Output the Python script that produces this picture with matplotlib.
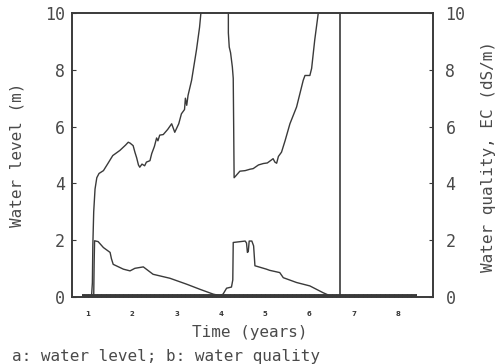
import matplotlib
matplotlib.use("Agg")
import matplotlib.pyplot as plt
from matplotlib.ticker import FixedLocator
import numpy as np

# ==== data ====
# water level (m), first rise
level1_t = [1.08, 1.10, 1.11, 1.13, 1.16, 1.20, 1.25, 1.35, 1.45, 1.56, 1.72, 1.85,
            1.91, 1.95, 2.02, 2.06, 2.10, 2.14, 2.17, 2.22, 2.28, 2.32, 2.40, 2.44,
            2.50, 2.55, 2.58, 2.62, 2.70, 2.80, 2.89, 2.96, 3.05, 3.11, 3.18, 3.20,
            3.23, 3.26, 3.34, 3.45, 3.52, 3.55]
level1_v = [0.0, 0.5, 1.8, 3.0, 3.8, 4.2, 4.35, 4.45, 4.7, 4.98, 5.16, 5.35,
            5.45, 5.42, 5.33, 5.1, 4.9, 4.65, 4.57, 4.68, 4.62, 4.75, 4.8, 5.05,
            5.3, 5.6, 5.5, 5.7, 5.72, 5.9, 6.1, 5.8, 6.1, 6.45, 6.6, 7.0,
            6.75, 7.1, 7.63, 8.7, 9.5, 10.0]
# water level (m), after the drop
level2_t = [4.17, 4.17, 4.19, 4.22, 4.26, 4.28, 4.29, 4.30, 4.33, 4.43, 4.55, 4.66,
            4.73, 4.85, 4.96, 5.05, 5.12, 5.18, 5.22, 5.26, 5.30, 5.37, 5.45, 5.56,
            5.71, 5.86, 5.90, 6.01, 6.05, 6.12, 6.20]
level2_v = [10.0, 9.3, 8.8, 8.6, 8.1, 7.7, 6.0, 4.2, 4.25, 4.43, 4.45, 4.5,
            4.52, 4.65, 4.7, 4.72, 4.8, 4.87, 4.75, 4.71, 4.95, 5.1, 5.5, 6.1,
            6.69, 7.63, 7.8, 7.8, 8.05, 9.05, 10.0]
# vertical jump near year 6.7
jump_t = [6.68, 6.68]
jump_v = [0.0, 10.0]

# water quality EC (dS/m)
qual_t = [1.13, 1.14, 1.15, 1.23, 1.35, 1.50, 1.53, 1.57, 1.80, 1.95, 2.06, 2.25,
          2.47, 2.85, 3.23, 3.53, 3.83, 3.98, 4.05, 4.13, 4.24, 4.27, 4.28, 4.55,
          4.58, 4.60, 4.62, 4.64, 4.70, 4.74, 4.77, 5.03, 5.10, 5.33, 5.41, 5.71,
          6.01, 6.31, 6.50, 6.55]
qual_v = [0.0, 1.2, 1.98, 1.95, 1.74, 1.57, 1.35, 1.15, 0.98, 0.92, 1.01, 1.06,
          0.8, 0.66, 0.45, 0.27, 0.1, 0.05, 0.1, 0.31, 0.35, 0.6, 1.92, 1.97,
          1.9, 1.57, 1.6, 1.97, 1.97, 1.8, 1.1, 0.98, 0.94, 0.86, 0.68, 0.51,
          0.39, 0.15, 0.02, 0.0]

# zero line along the bottom
base_t = [0.86, 8.42]
base_v = [0.05, 0.05]

x_ticks = [1, 2, 3, 4, 5, 6, 7, 8]
y_ticks = [0, 2, 4, 6, 8, 10]

INK = "#3a3a3a"
TXT = "#4a4a4a"
MONO = "DejaVu Sans Mono"

fig = plt.figure(figsize=(5.03, 3.64), dpi=100)
ax = fig.add_axes([72 / 503, 1 - 297 / 364, 361 / 503, 284 / 364])
ax2 = ax.twinx()

ax.plot(level1_t, level1_v, color=INK, lw=1.0)
ax.plot(level2_t, level2_v, color=INK, lw=1.0)
ax.plot(jump_t, jump_v, color=INK, lw=1.2)
ax.plot(base_t, base_v, color=INK, lw=2.8, solid_capstyle="butt")
ax2.plot(qual_t, qual_v, color=INK, lw=1.0)

for a in (ax, ax2):
    a.set_xlim(0.64, 8.79)
    a.set_ylim(0, 10)
    a.set_yticks(y_ticks)
    for s in a.spines.values():
        s.set_color(INK)
        s.set_linewidth(1.2)

ax.set_xticks(x_ticks)
ax.set_xticklabels([str(t) for t in x_ticks], fontsize=5, fontweight="bold",
                   color=INK)
ax.xaxis.set_minor_locator(FixedLocator(np.arange(0.9, 8.45, 0.1)))
ax.tick_params(axis="x", which="both", direction="in", length=2, width=0.7,
               color=INK, pad=10)
ax.tick_params(axis="y", direction="in", length=3, width=0.8, color=INK,
               labelsize=12, labelcolor=TXT, pad=5)
ax2.tick_params(axis="y", direction="in", length=3, width=0.8, color=INK,
                labelsize=12, labelcolor=TXT, pad=9)
for lab in ax.get_yticklabels() + ax2.get_yticklabels():
    lab.set_family(MONO)

fig.text(17 / 503, 1 - 155 / 364, "Water level (m)", rotation=90, ha="center",
         va="center", fontsize=11.5, family=MONO, color=TXT)
fig.text(488 / 503, 1 - 157 / 364, "Water quality, EC (dS/m)", rotation=90,
         ha="center", va="center", fontsize=11.5, family=MONO, color=TXT)
fig.text(250 / 503, 1 - 332 / 364, "Time (years)", ha="center", va="center",
         fontsize=11.5, family=MONO, color=TXT)
fig.text(12 / 503, 1 - 356 / 364, "a: water level; b: water quality",
         ha="left", va="center", fontsize=11.5, family=MONO, color=TXT)

fig.savefig("out.png", dpi=100)
